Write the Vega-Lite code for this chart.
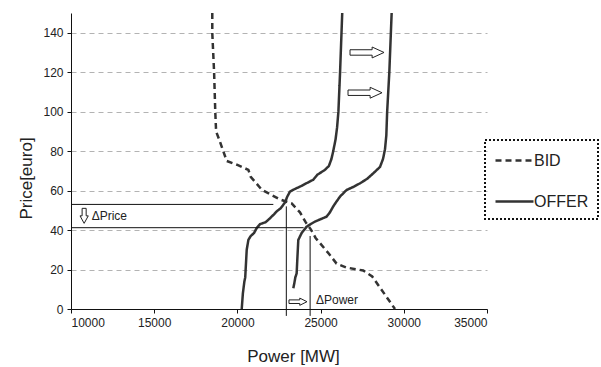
{
  "$schema": "https://vega.github.io/schema/vega-lite/v6.json",
  "width": 416,
  "height": 296,
  "autosize": {"type": "none"},
  "padding": {"left": 71, "top": 13, "right": 114, "bottom": 58},
  "background": "white",
  "config": {
    "view": {"stroke": null},
    "font": "Liberation Sans",
    "legend": {"strokeColor": "#111", "strokeDash": [2, 2], "strokeWidth": 2}
  },
  "datasets": {
    "curves": [
      {"series": "BID", "curve": "bid", "i": 1, "power": 18490, "price": 150},
      {"series": "BID", "curve": "bid", "i": 2, "power": 18490, "price": 140},
      {"series": "BID", "curve": "bid", "i": 3, "power": 18600, "price": 120},
      {"series": "BID", "curve": "bid", "i": 4, "power": 18670, "price": 100},
      {"series": "BID", "curve": "bid", "i": 5, "power": 18720, "price": 90},
      {"series": "BID", "curve": "bid", "i": 6, "power": 18900, "price": 86},
      {"series": "BID", "curve": "bid", "i": 7, "power": 19150, "price": 80},
      {"series": "BID", "curve": "bid", "i": 8, "power": 19360, "price": 75},
      {"series": "BID", "curve": "bid", "i": 9, "power": 20000, "price": 73},
      {"series": "BID", "curve": "bid", "i": 10, "power": 20660, "price": 70.5},
      {"series": "BID", "curve": "bid", "i": 11, "power": 20800, "price": 67},
      {"series": "BID", "curve": "bid", "i": 12, "power": 21460, "price": 60.5},
      {"series": "BID", "curve": "bid", "i": 13, "power": 22000, "price": 58},
      {"series": "BID", "curve": "bid", "i": 14, "power": 22560, "price": 55.5},
      {"series": "BID", "curve": "bid", "i": 15, "power": 23260, "price": 53.5},
      {"series": "BID", "curve": "bid", "i": 16, "power": 23760, "price": 49},
      {"series": "BID", "curve": "bid", "i": 17, "power": 24100, "price": 44},
      {"series": "BID", "curve": "bid", "i": 18, "power": 24400, "price": 40.5},
      {"series": "BID", "curve": "bid", "i": 19, "power": 24700, "price": 36},
      {"series": "BID", "curve": "bid", "i": 20, "power": 25500, "price": 28},
      {"series": "BID", "curve": "bid", "i": 21, "power": 25960, "price": 23},
      {"series": "BID", "curve": "bid", "i": 22, "power": 26560, "price": 21},
      {"series": "BID", "curve": "bid", "i": 23, "power": 27560, "price": 19.5},
      {"series": "BID", "curve": "bid", "i": 24, "power": 28100, "price": 16.5},
      {"series": "BID", "curve": "bid", "i": 25, "power": 28600, "price": 10.5},
      {"series": "BID", "curve": "bid", "i": 26, "power": 29470, "price": 0},

      {"series": "OFFER", "curve": "offer1", "i": 1, "power": 20260, "price": 0},
      {"series": "OFFER", "curve": "offer1", "i": 2, "power": 20330, "price": 8},
      {"series": "OFFER", "curve": "offer1", "i": 3, "power": 20420, "price": 14},
      {"series": "OFFER", "curve": "offer1", "i": 4, "power": 20470, "price": 16},
      {"series": "OFFER", "curve": "offer1", "i": 5, "power": 20560, "price": 30},
      {"series": "OFFER", "curve": "offer1", "i": 6, "power": 20660, "price": 35},
      {"series": "OFFER", "curve": "offer1", "i": 7, "power": 20800, "price": 37},
      {"series": "OFFER", "curve": "offer1", "i": 8, "power": 21000, "price": 38.5},
      {"series": "OFFER", "curve": "offer1", "i": 9, "power": 21160, "price": 41},
      {"series": "OFFER", "curve": "offer1", "i": 10, "power": 21360, "price": 43},
      {"series": "OFFER", "curve": "offer1", "i": 11, "power": 21700, "price": 44},
      {"series": "OFFER", "curve": "offer1", "i": 12, "power": 21960, "price": 46},
      {"series": "OFFER", "curve": "offer1", "i": 13, "power": 22200, "price": 48},
      {"series": "OFFER", "curve": "offer1", "i": 14, "power": 22360, "price": 49.5},
      {"series": "OFFER", "curve": "offer1", "i": 15, "power": 22600, "price": 51},
      {"series": "OFFER", "curve": "offer1", "i": 16, "power": 22860, "price": 54},
      {"series": "OFFER", "curve": "offer1", "i": 17, "power": 23000, "price": 57},
      {"series": "OFFER", "curve": "offer1", "i": 18, "power": 23160, "price": 59.5},
      {"series": "OFFER", "curve": "offer1", "i": 19, "power": 23500, "price": 61},
      {"series": "OFFER", "curve": "offer1", "i": 20, "power": 23760, "price": 62},
      {"series": "OFFER", "curve": "offer1", "i": 21, "power": 24100, "price": 63.5},
      {"series": "OFFER", "curve": "offer1", "i": 22, "power": 24560, "price": 65.5},
      {"series": "OFFER", "curve": "offer1", "i": 23, "power": 24800, "price": 68},
      {"series": "OFFER", "curve": "offer1", "i": 24, "power": 25260, "price": 70.5},
      {"series": "OFFER", "curve": "offer1", "i": 25, "power": 25500, "price": 72.5},
      {"series": "OFFER", "curve": "offer1", "i": 26, "power": 25650, "price": 76},
      {"series": "OFFER", "curve": "offer1", "i": 27, "power": 25760, "price": 80},
      {"series": "OFFER", "curve": "offer1", "i": 28, "power": 25900, "price": 86},
      {"series": "OFFER", "curve": "offer1", "i": 29, "power": 25990, "price": 92},
      {"series": "OFFER", "curve": "offer1", "i": 30, "power": 26070, "price": 100},
      {"series": "OFFER", "curve": "offer1", "i": 31, "power": 26170, "price": 120},
      {"series": "OFFER", "curve": "offer1", "i": 32, "power": 26300, "price": 150},

      {"series": "OFFER", "curve": "offer2", "i": 1, "power": 23360, "price": 10.5},
      {"series": "OFFER", "curve": "offer2", "i": 2, "power": 23420, "price": 13},
      {"series": "OFFER", "curve": "offer2", "i": 3, "power": 23480, "price": 16},
      {"series": "OFFER", "curve": "offer2", "i": 4, "power": 23560, "price": 18},
      {"series": "OFFER", "curve": "offer2", "i": 5, "power": 23600, "price": 25},
      {"series": "OFFER", "curve": "offer2", "i": 6, "power": 23660, "price": 35},
      {"series": "OFFER", "curve": "offer2", "i": 7, "power": 23860, "price": 38.5},
      {"series": "OFFER", "curve": "offer2", "i": 8, "power": 24160, "price": 41.7},
      {"series": "OFFER", "curve": "offer2", "i": 9, "power": 24400, "price": 43},
      {"series": "OFFER", "curve": "offer2", "i": 10, "power": 24660, "price": 44.3},
      {"series": "OFFER", "curve": "offer2", "i": 11, "power": 25000, "price": 45.5},
      {"series": "OFFER", "curve": "offer2", "i": 12, "power": 25360, "price": 46.8},
      {"series": "OFFER", "curve": "offer2", "i": 13, "power": 25560, "price": 49},
      {"series": "OFFER", "curve": "offer2", "i": 14, "power": 25760, "price": 52},
      {"series": "OFFER", "curve": "offer2", "i": 15, "power": 25960, "price": 54.5},
      {"series": "OFFER", "curve": "offer2", "i": 16, "power": 26170, "price": 57},
      {"series": "OFFER", "curve": "offer2", "i": 17, "power": 26560, "price": 60.3},
      {"series": "OFFER", "curve": "offer2", "i": 18, "power": 27000, "price": 62},
      {"series": "OFFER", "curve": "offer2", "i": 19, "power": 27370, "price": 63.7},
      {"series": "OFFER", "curve": "offer2", "i": 20, "power": 27800, "price": 66},
      {"series": "OFFER", "curve": "offer2", "i": 21, "power": 28170, "price": 68.8},
      {"series": "OFFER", "curve": "offer2", "i": 22, "power": 28570, "price": 72},
      {"series": "OFFER", "curve": "offer2", "i": 23, "power": 28750, "price": 76},
      {"series": "OFFER", "curve": "offer2", "i": 24, "power": 28870, "price": 81},
      {"series": "OFFER", "curve": "offer2", "i": 25, "power": 28950, "price": 88},
      {"series": "OFFER", "curve": "offer2", "i": 26, "power": 29000, "price": 100},
      {"series": "OFFER", "curve": "offer2", "i": 27, "power": 29130, "price": 120},
      {"series": "OFFER", "curve": "offer2", "i": 28, "power": 29270, "price": 150}
    ],
    "rules": [
      {"name": "price_before", "power": 10000, "power2": 22160, "price": 53, "price2": 53},
      {"name": "price_after", "power": 10000, "power2": 23980, "price": 41.2, "price2": 41.2},
      {"name": "power_before", "power": 22940, "power2": 22940, "price": -3.5, "price2": 52},
      {"name": "power_after", "power": 24370, "power2": 24370, "price": -3.5, "price2": 37}
    ],
    "arrows": [
      {"kind": "big", "power": 27790, "price": 130},
      {"kind": "big", "power": 27670, "price": 109.6},
      {"kind": "down", "power": 10790, "price": 47.2},
      {"kind": "small", "power": 23640, "price": 3.7}
    ],
    "labels": [
      {"text": "ΔPrice", "power": 11240, "price": 47.1},
      {"text": "ΔPower", "power": 24720, "price": 4.6}
    ]
  },
  "layer": [
    {
      "data": {"name": "curves"},
      "mark": {"type": "line", "color": "#333333", "strokeWidth": 2.5},
      "encoding": {
        "x": {
          "field": "power", "type": "quantitative",
          "scale": {"domain": [10000, 35000], "nice": false},
          "axis": {
            "values": [10000, 15000, 20000, 25000, 30000, 35000],
            "format": "d",
            "title": "Power [MW]",
            "titleFont": "Liberation Sans",
            "titleFontSize": 17,
            "titleFontWeight": "normal",
            "titleColor": "#222",
            "titleX": 222,
            "titleY": 52,
            "titleBaseline": "alphabetic",
            "labelFontSize": 12,
            "labelColor": "#222",
            "labelPadding": 4,
            "tickSize": 4,
            "tickColor": "#111",
            "domainColor": "#111",
            "grid": false
          }
        },
        "y": {
          "field": "price", "type": "quantitative",
          "scale": {"domain": [0, 150], "nice": false},
          "axis": {
            "values": [0, 20, 40, 60, 80, 100, 120, 140],
            "title": "Price[euro]",
            "titleFont": "Liberation Sans",
            "titleFontSize": 17,
            "titleFontWeight": "normal",
            "titleColor": "#222",
            "titleAngle": -90,
            "titleX": -40,
            "titleY": 165,
            "titleAlign": "center",
            "titleBaseline": "alphabetic",
            "labelFontSize": 12,
            "labelColor": "#222",
            "labelPadding": 4,
            "tickSize": 4,
            "tickColor": "#111",
            "domainColor": "#111",
            "grid": true,
            "gridColor": "#b3b3b3",
            "gridDash": [5, 4],
            "gridWidth": 1
          }
        },
        "strokeDash": {
          "field": "series", "type": "nominal",
          "scale": {"domain": ["BID", "OFFER"], "range": [[6, 4], [1, 0]]},
          "legend": {
            "title": null,
            "orient": "none",
            "legendX": 414,
            "legendY": 127,
            "padding": 9,
            "symbolType": "M-1,0L2.8,0",
            "symbolSize": 400,
            "symbolStrokeWidth": 2.5,
            "symbolStrokeColor": "#333333",
            "labelFontSize": 16,
            "labelColor": "#222",
            "labelOffset": 17,
            "rowPadding": 21
          }
        },
        "detail": {"field": "curve"},
        "order": {"field": "i", "type": "quantitative"}
      }
    },
    {
      "data": {"name": "rules"},
      "mark": {"type": "rule", "color": "#111", "strokeWidth": 1},
      "encoding": {
        "x": {"field": "power", "type": "quantitative"},
        "x2": {"field": "power2"},
        "y": {"field": "price", "type": "quantitative"},
        "y2": {"field": "price2"}
      }
    },
    {
      "data": {"name": "arrows"},
      "transform": [{"filter": "datum.kind === 'big'"}],
      "mark": {
        "type": "point", "filled": true, "fill": "white", "stroke": "#222", "strokeWidth": 1, "opacity": 1,
        "shape": "M-1,-0.16L0.3,-0.16L0.3,-0.32L1,0L0.3,0.32L0.3,0.16L-1,0.16Z",
        "size": 1156
      },
      "encoding": {
        "x": {"field": "power", "type": "quantitative"},
        "y": {"field": "price", "type": "quantitative"}
      }
    },
    {
      "data": {"name": "arrows"},
      "transform": [{"filter": "datum.kind === 'small'"}],
      "mark": {
        "type": "point", "filled": true, "fill": "white", "stroke": "#222", "strokeWidth": 1, "opacity": 1,
        "shape": "M-1,-0.2L0.2,-0.2L0.2,-0.4L1,0L0.2,0.4L0.2,0.2L-1,0.2Z",
        "size": 324
      },
      "encoding": {
        "x": {"field": "power", "type": "quantitative"},
        "y": {"field": "price", "type": "quantitative"}
      }
    },
    {
      "data": {"name": "arrows"},
      "transform": [{"filter": "datum.kind === 'down'"}],
      "mark": {
        "type": "point", "filled": true, "fill": "white", "stroke": "#222", "strokeWidth": 1, "opacity": 1,
        "shape": "M-0.27,-1L0.27,-1L0.27,0L0.55,0L0,1L-0.55,0L-0.27,0Z",
        "size": 225
      },
      "encoding": {
        "x": {"field": "power", "type": "quantitative"},
        "y": {"field": "price", "type": "quantitative"}
      }
    },
    {
      "data": {"name": "labels"},
      "mark": {"type": "text", "align": "left", "baseline": "middle", "fontSize": 12, "color": "#222"},
      "encoding": {
        "x": {"field": "power", "type": "quantitative"},
        "y": {"field": "price", "type": "quantitative"},
        "text": {"field": "text"}
      }
    }
  ]
}
